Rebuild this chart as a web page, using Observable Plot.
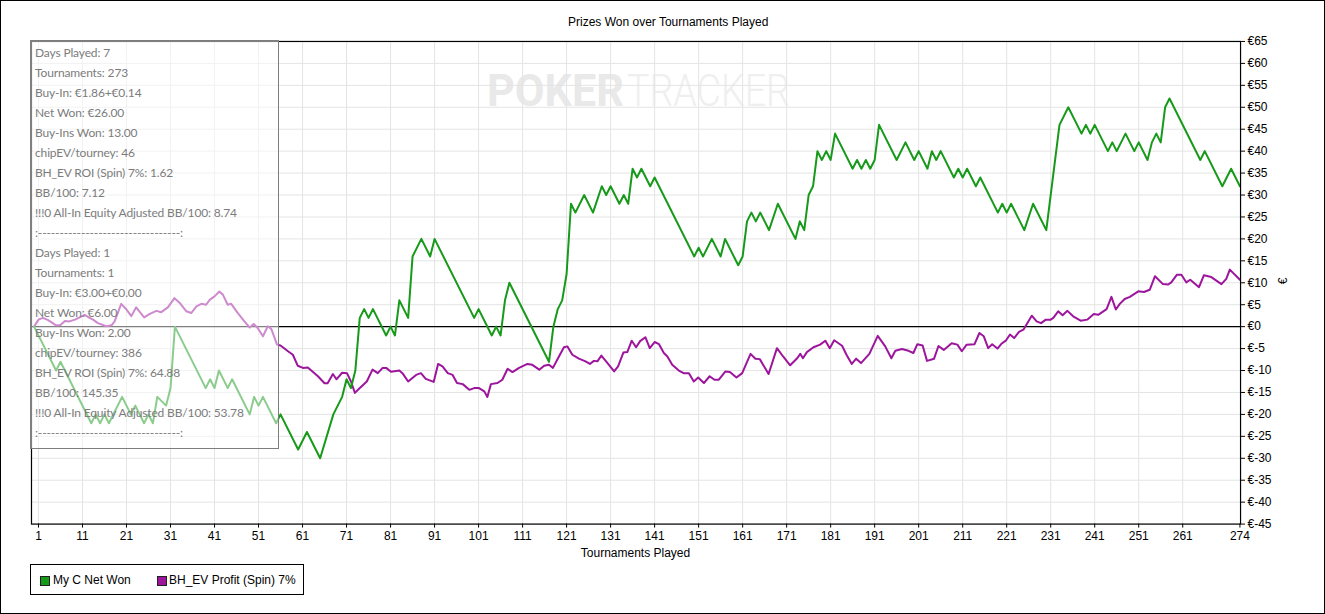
<!DOCTYPE html>
<html>
<head>
<meta charset="utf-8">
<script src="https://cdn.jsdelivr.net/npm/d3@7"></script>
<script src="https://cdn.jsdelivr.net/npm/@observablehq/plot@0.6"></script>
<style>
  body { margin: 0; background: white; }
  #wrap { position: relative; width: 1325px; height: 614px; box-sizing: border-box; border: 1px solid black; overflow: hidden; font-family: "Liberation Sans", Arial, sans-serif; }
  #wm { position: absolute; left: 0; top: 0; }
  #chart { position: absolute; left: -1px; top: -1px; }
  .abs { position: absolute; white-space: nowrap; }
  #title { left: 567px; top: 14px; font-size: 12px; color: #000; }
  #xtitle { left: 29px; width: 1211px; text-align: center; top: 545px; font-size: 12px; }
  #ylab { left: 1279px; top: 273px; font-size: 12px; transform: rotate(-90deg); transform-origin: center; }
  #info { left: 29px; top: 39px; width: 249px; height: 409px; background: rgba(255,255,255,0.5); border: 1px solid #7d7d7d; font-family: "Lato", "Open Sans", sans-serif; font-size: 12px; letter-spacing: -0.15px; color: #7c7c7c; line-height: 20px; padding: 2px 0 0 4px; box-sizing: border-box; }
  #legend { left: 29px; top: 563px; width: 274px; height: 31px; border: 1px solid black; box-sizing: border-box; font-size: 12px; }
  .sw { position: absolute; top: 11px; width: 8px; height: 8px; border: 1px solid #222; }
  .lt { position: absolute; top: 8px; }
</style>
</head>
<body>
<div id="wrap">
  <div id="wm"></div>
  <div id="chart"></div>
  <div id="title" class="abs">Prizes Won over Tournaments Played</div>
  <div id="xtitle" class="abs">Tournaments Played</div>
  <div id="ylab" class="abs">€</div>
  <div id="info" class="abs"></div>
  <div id="legend" class="abs"></div>
</div>
<script>
// ---- data ----
const seriesNames = ["My C Net Won", "BH_EV Profit (Spin) 7%"];
const seriesColors = ["#17991a", "#9c159c"];

// My C Net Won: tournament index and cumulative value at line vertices
const greenT = [0,5,6,13,14,15,16,17,20,22,23,25,26,27,28,30,31,32,39,40,41,42,44,45,49,50,51,52,55,56,60,62,65,68,70,71,72,73,74,75,76,77,80,81,82,83,85,86,88,90,91,100,101,104,105,106,107,108,117,118,119,120,121,122,123,125,127,129,130,131,133,134,135,136,137,138,140,141,150,151,152,154,156,157,160,161,162,163,164,165,167,169,173,174,175,176,177,178,179,180,181,182,186,187,188,189,190,191,192,196,198,200,201,203,204,205,206,209,210,211,212,214,215,219,220,221,222,225,227,230,233,235,238,239,240,241,244,245,246,248,250,251,253,254,255,256,257,258,265,266,270,272,274];
const greenV = [0,-10,-8,-22,-20,-22,-20,-22,-16,-20,-18,-22,-20,-22,-16,-18,-14,0,-14,-12,-14,-10,-14,-12,-20,-16,-18,-16,-22,-20,-28,-24,-30,-20,-16,-12,-14,-10,2,4,2,4,-2,0,-2,6,2,16,20,16,20,2,4,-2,0,-2,6,10,-8,0,4,6,12,28,26,30,26,32,30,32,28,30,28,36,34,36,32,34,16,18,16,20,16,20,14,16,24,26,24,26,22,28,20,24,22,30,32,40,38,40,38,44,36,38,36,38,36,38,46,38,42,38,40,36,40,38,40,34,36,34,36,32,34,26,28,26,28,22,28,22,46,50,44,46,44,46,40,42,40,44,40,42,38,42,44,42,50,52,38,40,32,36,32];

// BH_EV Profit (Spin) 7%
const purpleT = [0,1,2,3.2,5,6,7,8,9.3,11.5,12.6,13.4,14.5,16.4,17.6,18.3,19.8,21,22.1,23.2,25,26.3,27.8,28.9,30.4,31.9,33.1,34.6,35.7,36.9,38,39.1,39.9,41,42.1,42.9,44,44.8,46.3,47.8,49,49.9,50.8,52,53.1,53.9,55.2,56,57.7,58.8,59.9,61.1,62.2,64.5,66,66.7,67.9,68.7,70,71.1,72,72.9,73.9,75.6,76.9,78.1,79.2,80,81.1,83,83.7,85,86.8,87.9,89,90.8,91.8,92.8,94,95.1,96.1,97.4,98.9,100,101.1,102.3,103,103.8,105.3,106.4,107.6,108.7,110.2,112.1,113.2,114.8,115.9,117,117.9,118.9,120.4,121.2,122.3,123.8,125.3,126.3,127.2,128,128.9,130.3,131.8,132.7,133.9,134.8,135.8,136.8,137.7,138.9,139.9,141,142,143.1,143.9,145,146.5,147.6,148.8,149.9,150.9,152.2,153.5,154.6,155.6,157.1,158.1,159.6,160.9,162.8,163.9,164.9,166.9,168.8,170.2,171.8,173.4,174.1,174.7,175.6,177.1,178.6,179.8,180.8,181.8,183.6,184.6,185.8,186.8,187.9,189.8,191.7,193.4,194.8,195.7,197.2,198.7,199.8,200.7,201.9,202.9,204.5,205.5,206.7,208.5,209.8,210.8,211.9,213.7,214.8,215.8,216.8,217.7,218.9,219.8,220.8,221.75,222.7,223.8,224.8,226.7,227.8,228.8,229.9,231,231.6,232.7,233.7,234.8,236.1,237.8,239.3,240.8,241.8,243.7,244.8,245.8,246.7,247.8,249,250.9,252.2,253.5,254.7,256.5,257.7,258.4,259.7,260.7,261.8,262.7,264.7,265.8,267.5,269.8,270.9,271.7,274];
const purpleV = [0,1.6,2.0,1.5,0.3,0.4,1.3,1.2,1.6,2.7,2.0,1.6,0.8,0.1,0.3,1.2,5.2,3.9,2.4,4.4,2.1,2.9,3.6,3.3,4.4,6.5,5.4,3.5,3.1,4.6,5.2,5.0,6.1,6.9,8.0,7.3,5.0,5.2,3.1,1.2,-0.2,0.6,-0.3,-2.2,0.1,-0.5,-4.1,-4.3,-5.6,-6.4,-8.9,-9.4,-9.3,-11.3,-12.9,-12.9,-10.8,-12.0,-10.5,-10.6,-12.5,-15.1,-14.1,-12.5,-9.8,-10.6,-9.4,-9.4,-10.3,-10.0,-10.6,-12.5,-11.0,-10.6,-11.9,-12.6,-8.5,-9.05,-10.6,-11.0,-12.85,-13.1,-14.4,-14.0,-14.0,-14.75,-16.05,-13.1,-12.85,-12.1,-9.6,-10.35,-9.4,-8.5,-8.7,-9.8,-8.9,-8.7,-9.4,-7.5,-4.7,-4.5,-6.4,-7.3,-7.9,-8.5,-7.8,-7.9,-6.6,-8.3,-10.2,-9.05,-5.9,-5.8,-3.2,-4.7,-3.3,-2.4,-4.9,-3.5,-4.0,-6.0,-6.8,-8.7,-10.0,-10.6,-10.6,-12.5,-11.6,-12.85,-11.3,-12.1,-12.1,-10.2,-10.35,-11.6,-10.6,-6.2,-7.3,-7.4,-10.8,-4.9,-6.8,-8.8,-7.2,-6.2,-7.2,-5.8,-4.7,-4.1,-3.2,-4.9,-3.1,-4.35,-6.4,-8.5,-7.3,-8.3,-6.2,-2.1,-4.5,-7.2,-5.5,-5.1,-5.5,-6.0,-4.0,-4.3,-7.8,-7.3,-4.4,-5.3,-3.8,-4.1,-5.6,-4.1,-4.0,-1.45,-2.2,-4.9,-4.0,-5.0,-3.9,-3.2,-1.8,-2.6,-1.2,-0.7,2.5,1.2,0.8,1.6,1.6,2.0,3.5,2.6,3.6,2.35,1.36,1.6,2.9,2.7,4.0,6.8,3.9,5.2,6.3,6.8,8.05,7.9,8.4,11.5,9.7,9.6,10.1,11.85,11.85,10.1,10.7,9.0,11.7,11.3,9.7,10.9,13.0,10.7];

const xTicks = [1,11,21,31,41,51,61,71,81,91,101,111,121,131,141,151,161,171,181,191,201,211,221,231,241,251,261,274];
const xGrid = [1,11,21,31,41,51,61,71,81,91,101,111,121,131,141,151,161,171,181,191,201,211,221,231,241,251,261];
const yTicks = [65,60,55,50,45,40,35,30,25,20,15,10,5,0,-5,-10,-15,-20,-25,-30,-35,-40,-45];

const infoLines = [
  "Days Played: 7","Tournaments: 273","Buy-In: €1.86+€0.14","Net Won: €26.00","Buy-Ins Won: 13.00",
  "chipEV/tourney: 46","BH_EV ROI (Spin) 7%: 1.62","BB/100: 7.12","!!!0 All-In Equity Adjusted BB/100: 8.74",
  ":---------------------------------:",
  "Days Played: 1","Tournaments: 1","Buy-In: €3.00+€0.00","Net Won: €6.00","Buy-Ins Won: 2.00",
  "chipEV/tourney: 386","BH_EV ROI (Spin) 7%: 64.88","BB/100: 145.35","!!!0 All-In Equity Adjusted BB/100: 53.78",
  ":---------------------------------:"
];

// ---- build tables ----
const green = greenT.map((t, i) => ({t, v: greenV[i]}));
const purple = purpleT.map((t, i) => ({t, v: purpleV[i]}));

const chart = Plot.plot({
  width: 1325,
  height: 561,
  marginLeft: 31,
  marginRight: 84,
  marginTop: 41,
  marginBottom: 37,
  style: {background: "transparent", fontFamily: "Liberation Sans, Arial, sans-serif", fontSize: "12px", color: "black"},
  x: {domain: [-0.588, 274.14]},
  y: {domain: [-45, 65]},
  marks: [
    Plot.gridX(xGrid, {stroke: "#e4e4e4", strokeOpacity: 1}),
    Plot.gridY(yTicks, {stroke: "#e4e4e4", strokeOpacity: 1}),
    Plot.ruleY([0], {stroke: "black", strokeWidth: 1.2}),
    Plot.line(purple, {x: "t", y: "v", stroke: seriesColors[1], strokeWidth: 2}),
    Plot.line(green, {x: "t", y: "v", stroke: seriesColors[0], strokeWidth: 2}),
    Plot.frame({stroke: "black", strokeWidth: 1.2}),
    Plot.axisX(xTicks, {tickSize: 4, tickPadding: 3, label: null, fontSize: 12, stroke: "black"}),
    Plot.axisY(yTicks, {anchor: "right", tickSize: 4, tickPadding: 3, label: null, fontSize: 12, tickFormat: d => "€" + d})
  ]
});
document.getElementById("chart").appendChild(chart);

// watermark
const wm = d3.select("#wm").append("svg").attr("width", 1325).attr("height", 140);
wm.append("text").attr("x", 486).attr("y", 105).attr("font-family", "Roboto, sans-serif").attr("font-weight", 700)
  .attr("font-size", 44).attr("fill", "#e9e9e9").attr("textLength", 137).attr("lengthAdjust", "spacingAndGlyphs").text("POKER");
wm.append("text").attr("x", 626).attr("y", 105).attr("font-family", "Roboto, sans-serif").attr("font-weight", 300)
  .attr("font-size", 44).attr("fill", "#efefef").attr("textLength", 163).attr("lengthAdjust", "spacingAndGlyphs").text("TRACKER");

// info box
const info = document.getElementById("info");
infoLines.forEach(s => { const d = document.createElement("div"); d.textContent = s; info.appendChild(d); });

// legend
const lg = document.getElementById("legend");
[[9, 22], [126, 138]].forEach(([sx, tx], i) => {
  const sw = document.createElement("div"); sw.className = "sw"; sw.style.left = sx + "px"; sw.style.background = seriesColors[i]; lg.appendChild(sw);
  const t = document.createElement("div"); t.className = "lt"; t.style.left = tx + "px"; t.textContent = seriesNames[i]; lg.appendChild(t);
});
</script>
</body>
</html>
